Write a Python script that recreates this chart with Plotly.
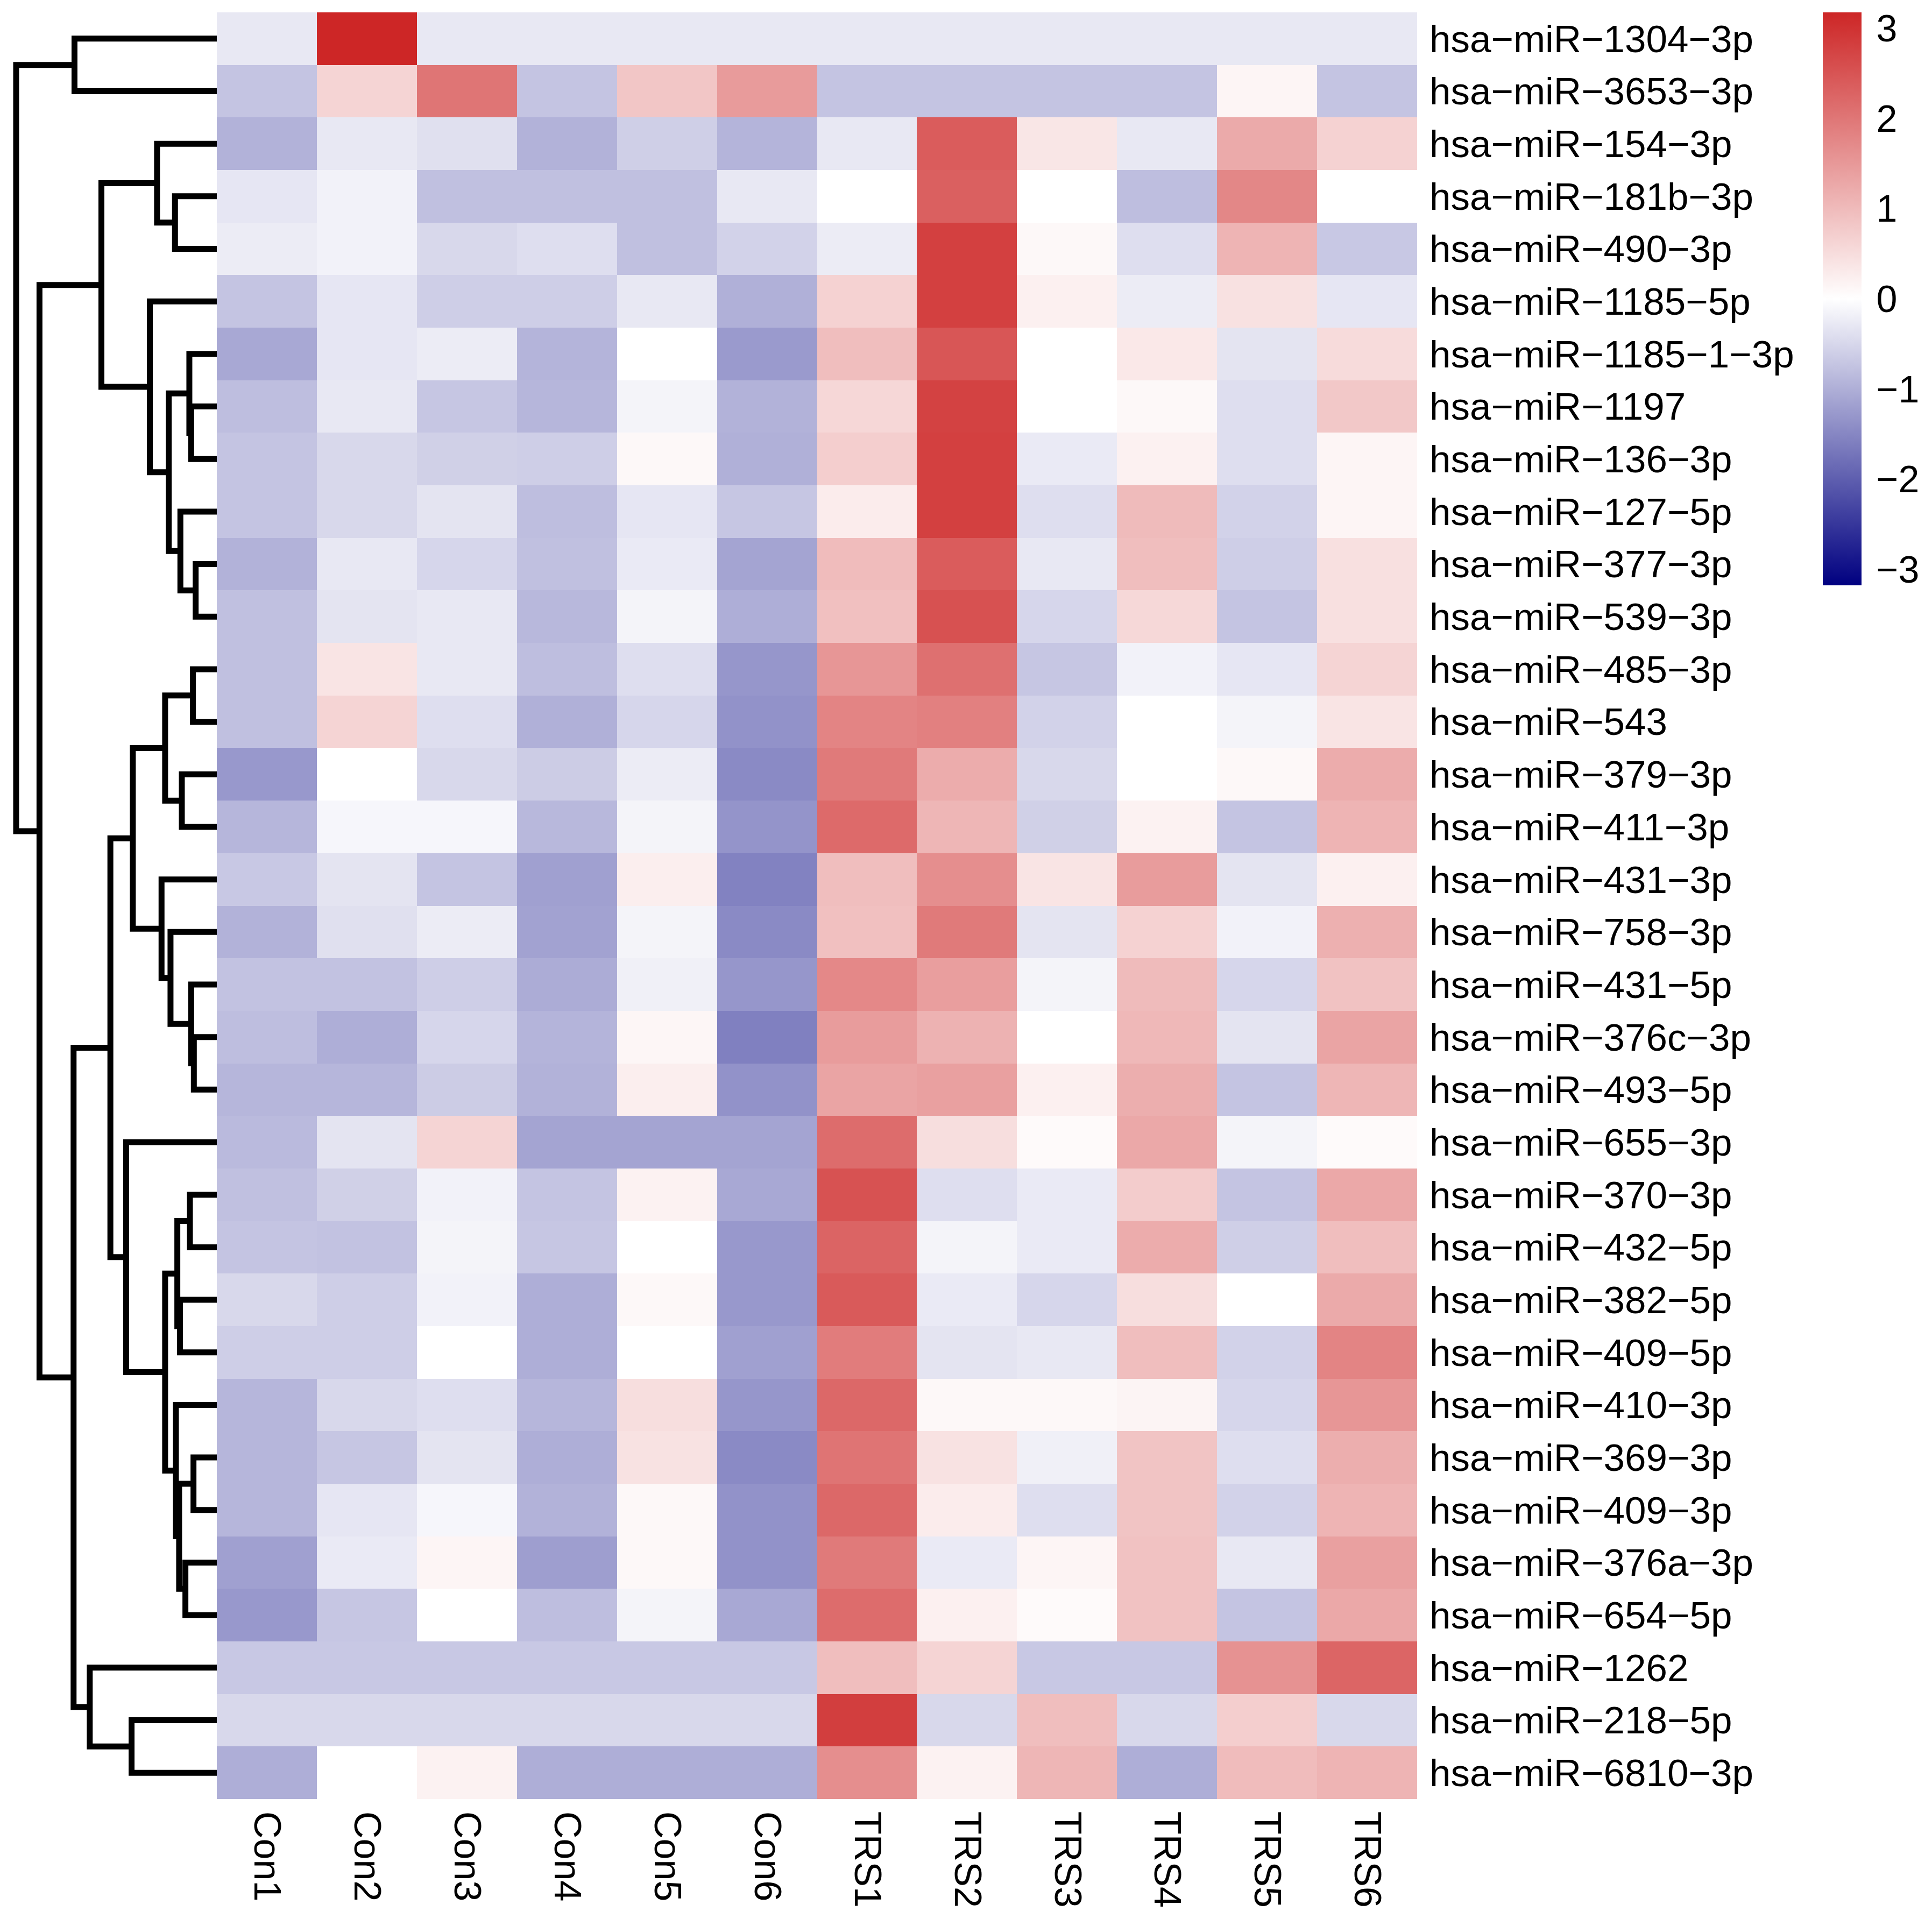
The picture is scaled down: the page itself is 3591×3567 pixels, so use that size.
import numpy as np
import plotly.graph_objects as go

# row labels (top to bottom, as ordered by the clustering)
mirnas = [
    "hsa−miR−1304−3p", "hsa−miR−3653−3p", "hsa−miR−154−3p", "hsa−miR−181b−3p",
    "hsa−miR−490−3p", "hsa−miR−1185−5p", "hsa−miR−1185−1−3p", "hsa−miR−1197",
    "hsa−miR−136−3p", "hsa−miR−127−5p", "hsa−miR−377−3p", "hsa−miR−539−3p",
    "hsa−miR−485−3p", "hsa−miR−543", "hsa−miR−379−3p", "hsa−miR−411−3p",
    "hsa−miR−431−3p", "hsa−miR−758−3p", "hsa−miR−431−5p", "hsa−miR−376c−3p",
    "hsa−miR−493−5p", "hsa−miR−655−3p", "hsa−miR−370−3p", "hsa−miR−432−5p",
    "hsa−miR−382−5p", "hsa−miR−409−5p", "hsa−miR−410−3p", "hsa−miR−369−3p",
    "hsa−miR−409−3p", "hsa−miR−376a−3p", "hsa−miR−654−5p", "hsa−miR−1262",
    "hsa−miR−218−5p", "hsa−miR−6810−3p",
]

samples = ["Con1", "Con2", "Con3", "Con4", "Con5", "Con6",
           "TRS1", "TRS2", "TRS3", "TRS4", "TRS5", "TRS6"]

# row z-scores per sample
con1 = [-0.29, -0.73, -0.96, -0.31, -0.24, -0.73, -1.08, -0.81, -0.73, -0.73, -0.96, -0.78,
        -0.78, -0.78, -1.28, -0.91, -0.68, -0.96, -0.76, -0.81, -0.91, -0.86, -0.78, -0.73,
        -0.49, -0.61, -0.91, -0.91, -0.91, -1.18, -1.28, -0.68, -0.49, -1.01]
con2 = [3.175, 0.63, -0.29, -0.16, -0.16, -0.31, -0.31, -0.29, -0.49, -0.49, -0.29, -0.34,
        0.40, 0.63, 0.00, -0.11, -0.34, -0.39, -0.76, -1.01, -0.91, -0.34, -0.59, -0.76,
        -0.61, -0.61, -0.49, -0.71, -0.31, -0.26, -0.71, -0.68, -0.49, 0.00]
con3 = [-0.29, 2.02, -0.39, -0.78, -0.49, -0.61, -0.24, -0.71, -0.59, -0.34, -0.51, -0.29,
        -0.29, -0.41, -0.49, -0.11, -0.73, -0.24, -0.61, -0.51, -0.64, 0.63, -0.16, -0.14,
        -0.16, 0.00, -0.41, -0.34, -0.11, 0.15, 0.00, -0.68, -0.49, 0.19]
con4 = [-0.29, -0.73, -0.96, -0.78, -0.41, -0.61, -0.93, -0.91, -0.61, -0.81, -0.78, -0.88,
        -0.81, -0.98, -0.64, -0.88, -1.18, -1.16, -1.03, -0.93, -0.96, -1.13, -0.73, -0.71,
        -1.01, -1.01, -0.91, -1.01, -0.96, -1.21, -0.81, -0.68, -0.49, -1.01]
con5 = [-0.29, 0.83, -0.60, -0.78, -0.78, -0.29, 0.00, -0.14, 0.10, -0.31, -0.26, -0.14,
        -0.41, -0.51, -0.24, -0.14, 0.25, -0.14, -0.19, 0.13, 0.25, -1.13, 0.19, 0.00,
        0.10, 0.00, 0.48, 0.42, 0.10, 0.10, -0.14, -0.68, -0.49, -1.01]
con6 = [-0.29, 1.46, -0.93, -0.29, -0.56, -0.98, -1.26, -0.96, -0.98, -0.71, -1.13, -1.01,
        -1.31, -1.36, -1.46, -1.33, -1.56, -1.46, -1.31, -1.58, -1.36, -1.13, -1.08, -1.28,
        -1.28, -1.18, -1.31, -1.46, -1.36, -1.36, -1.08, -0.68, -0.49, -1.01]
trs1 = [-0.29, -0.73, -0.29, 0.00, -0.24, 0.66, 0.95, 0.59, 0.72, 0.28, 0.98, 0.92,
        1.54, 1.80, 1.95, 2.18, 0.95, 0.92, 1.74, 1.45, 1.33, 2.15, 2.53, 2.27,
        2.42, 1.92, 2.21, 2.03, 2.21, 1.95, 2.15, 0.95, 2.83, 1.65]
trs2 = [-0.29, -0.73, 2.38, 2.33, 2.80, 2.80, 2.47, 2.77, 2.80, 2.80, 2.38, 2.55,
        2.09, 1.86, 1.21, 1.07, 1.65, 1.95, 1.42, 1.13, 1.39, 0.48, -0.41, -0.14,
        -0.26, -0.34, 0.10, 0.42, 0.28, -0.26, 0.22, 0.63, -0.49, 0.19]
trs3 = [-0.29, -0.73, 0.37, 0.00, 0.10, 0.22, 0.00, 0.00, -0.26, -0.41, -0.29, -0.51,
        -0.71, -0.56, -0.49, -0.59, 0.40, -0.34, -0.14, 0.00, 0.22, 0.07, -0.26, -0.26,
        -0.51, -0.29, 0.10, -0.19, -0.41, 0.15, 0.07, -0.68, 0.95, 1.07]
trs4 = [-0.29, -0.73, -0.29, -0.81, -0.41, -0.24, 0.34, 0.10, 0.20, 1.00, 0.95, 0.57,
        -0.16, 0.00, 0.00, 0.19, 1.45, 0.66, 1.00, 1.04, 1.18, 1.27, 0.75, 1.21,
        0.48, 0.95, 0.16, 0.86, 0.86, 0.89, 0.89, -0.68, -0.49, -1.01]
trs5 = [-0.29, 0.15, 1.24, 1.76, 1.10, 0.44, -0.34, -0.41, -0.41, -0.56, -0.61, -0.73,
        -0.31, -0.14, 0.10, -0.73, -0.34, -0.16, -0.51, -0.34, -0.73, -0.14, -0.73, -0.60,
        0.00, -0.56, -0.51, -0.41, -0.56, -0.29, -0.73, 1.60, 0.72, 0.98]
trs6 = [-0.29, -0.73, 0.66, 0.00, -0.68, -0.31, 0.52, 0.80, 0.15, 0.15, 0.45, 0.45,
        0.63, 0.40, 1.21, 1.10, 0.22, 1.16, 0.89, 1.33, 1.07, 0.07, 1.27, 0.95,
        1.24, 1.80, 1.54, 1.18, 1.10, 1.39, 1.27, 2.25, -0.49, 1.10]

# row dendrogram as a merge list (ids < 34 are leaves, 34 + i is merge i)
merge_left = [0, 3, 2, 7, 6, 10, 9, 38, 5, 36, 12, 14, 44, 19, 18, 17, 16,
              46, 22, 24, 52, 27, 29, 55, 26, 54, 21, 51, 32, 31, 61, 43, 34]
merge_right = [1, 4, 35, 8, 37, 11, 39, 40, 41, 42, 13, 15, 45, 20, 47, 48, 49,
               50, 23, 25, 53, 28, 30, 56, 57, 58, 59, 60, 33, 62, 63, 64, 65]
merge_height = [7.93, 2.33, 3.33, 1.43, 1.53, 1.18, 2.03, 2.68, 3.73, 6.43, 1.33,
                1.95, 2.88, 1.28, 1.43, 2.58, 3.08, 4.68, 1.50, 2.05, 2.20, 1.30,
                1.75, 2.10, 2.28, 2.88, 5.05, 5.93, 4.75, 7.08, 7.98, 9.88, 11.18]

colour_scale = [[0.0, "rgb(0,0,128)"], [0.5, "rgb(255,255,255)"], [1.0, "rgb(205,38,38)"]]
z_limit = 3.175

# page size; the html body keeps its default 8px margin
W, H = 3591, 3567
OFF = 8
FW, FH = W - 2 * OFF, H - 2 * OFF
FONT = "Liberation Sans, Arial, sans-serif"


def px_x(p):
    return (p - OFF) / FW


def px_y(p):
    return 1 - (p - OFF) / FH


def dendrogram_lines(left, right, heights, n_leaves):
    """Build the elbow lines of a left-hand row dendrogram."""
    pos = {i: float(i) for i in range(n_leaves)}
    hgt = {i: 0.0 for i in range(n_leaves)}
    xs, ys = [], []
    for k, (a, b, h) in enumerate(zip(left, right, heights)):
        xs += [hgt[a], h, h, hgt[b], None]
        ys += [pos[a], pos[a], pos[b], pos[b], None]
        node = n_leaves + k
        pos[node] = (pos[a] + pos[b]) / 2
        hgt[node] = h
    return xs, ys


z = np.column_stack([con1, con2, con3, con4, con5, con6,
                     trs1, trs2, trs3, trs4, trs5, trs6])

heat_left, heat_right = px_x(403), px_x(2634)
heat_top, heat_bottom = px_y(23), px_y(3344)
root_x = 30

fig = go.Figure()

fig.add_trace(go.Heatmap(
    z=z,
    x=list(range(len(samples))),
    y=list(range(len(mirnas))),
    colorscale=colour_scale,
    zmin=-z_limit,
    zmax=z_limit,
    hoverinfo="skip",
    colorbar=dict(
        x=px_x(3388), xanchor="left", xpad=0,
        y=heat_top, yanchor="top", ypad=0,
        thickness=72, thicknessmode="pixels",
        len=1065, lenmode="pixels",
        outlinewidth=0,
        tickvals=[-3, -2, -1, 0, 1, 2, 3],
        ticks="outside", ticklen=14, tickcolor="rgba(0,0,0,0)",
        tickfont=dict(family=FONT, size=70, color="black"),
    ),
))

dx, dy = dendrogram_lines(merge_left, merge_right, merge_height, len(mirnas))
fig.add_trace(go.Scatter(
    x=dx, y=dy, mode="lines", xaxis="x2", yaxis="y",
    line=dict(color="black", width=11),
    hoverinfo="skip", showlegend=False,
))

root_h = max(merge_height)
fig.update_layout(
    width=FW, height=FH,
    margin=dict(l=0, r=0, t=0, b=0),
    paper_bgcolor="white", plot_bgcolor="white",
    showlegend=False,
    xaxis=dict(
        domain=[heat_left, heat_right],
        range=[-0.5, len(samples) - 0.5],
        tickvals=list(range(len(samples))), ticktext=samples,
        tickangle=90, ticks="", ticklabelstandoff=22,
        tickfont=dict(family=FONT, size=70, color="black"),
        showgrid=False, zeroline=False, showline=False,
    ),
    yaxis=dict(
        domain=[heat_bottom, heat_top],
        range=[len(mirnas) - 0.5, -0.5],
        anchor="x", side="right",
        tickvals=list(range(len(mirnas))), ticktext=mirnas,
        ticks="", ticklabelstandoff=22,
        tickfont=dict(family=FONT, size=71, color="black"),
        showgrid=False, zeroline=False, showline=False,
    ),
    xaxis2=dict(
        domain=[0, heat_left],
        range=[root_h * (403 - OFF) / (403 - root_x), 0],
        anchor="y",
        showticklabels=False, ticks="",
        showgrid=False, zeroline=False, showline=False,
    ),
)

fig.write_html("out.html")
